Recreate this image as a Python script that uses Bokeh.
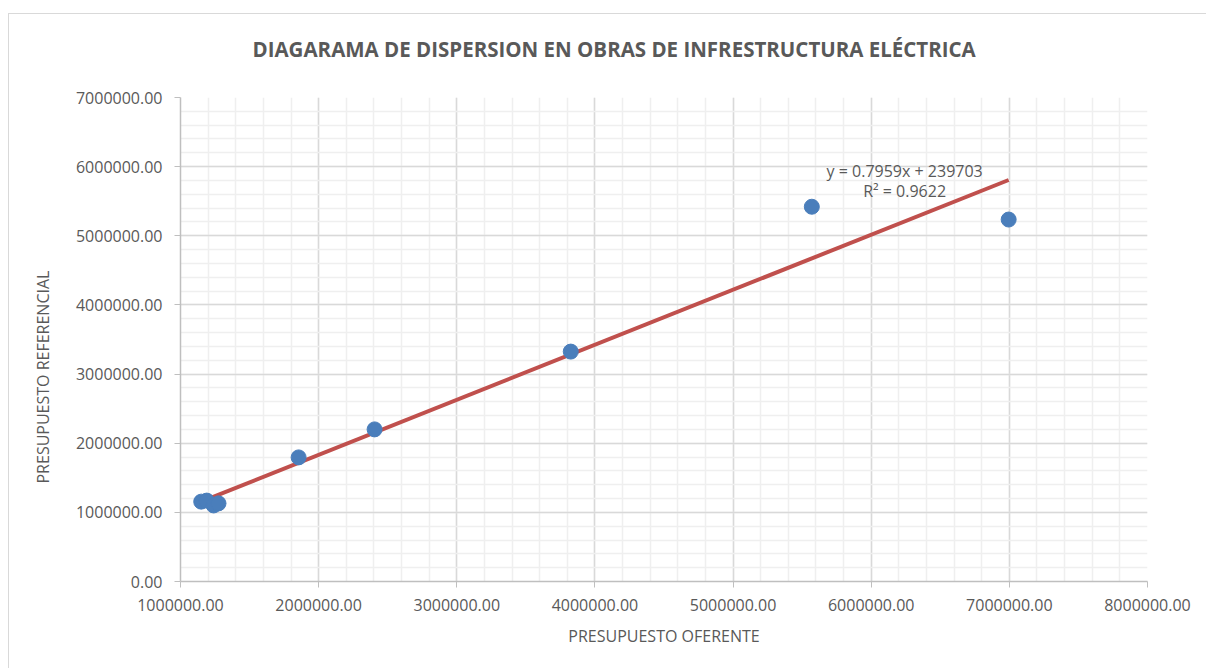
from bokeh.plotting import figure
from bokeh.models import FixedTicker, NumeralTickFormatter, Range1d, Label, Title
from bokeh.embed import file_html
from bokeh.resources import INLINE

# ---- data ----
presupuesto_oferente = [1150000, 1190000, 1240000, 1275000, 1855000, 2405000, 3825000, 5570000, 6995000]
presupuesto_referencial = [1155000, 1170000, 1100000, 1130000, 1795000, 2200000, 3325000, 5420000, 5235000]
slope = 0.7959
intercept = 239703
r2 = 0.9622
x_ticks = [1000000, 2000000, 3000000, 4000000, 5000000, 6000000, 7000000, 8000000]
y_ticks = [0, 1000000, 2000000, 3000000, 4000000, 5000000, 6000000, 7000000]
title_text = "DIAGARAMA DE DISPERSION EN OBRAS DE INFRESTRUCTURA ELÉCTRICA"
x_title = "PRESUPUESTO OFERENTE"
y_title = "PRESUPUESTO REFERENCIAL"

FONT = "Open Sans"
TXT = "#595959"

W, H = 1198, 655
p = figure(width=W, height=H, output_backend="svg", toolbar_location=None,
           x_range=Range1d(1000000, 8000000), y_range=Range1d(0, 7000000),
           min_border_left=171, min_border_right=60, min_border_top=83, min_border_bottom=88)
p.styles = {"margin-top": "13px", "margin-left": "8px",
            "border-top": "1px solid #d9d9d9", "border-left": "1px solid #d9d9d9"}
p.outline_line_color = None
p.background_fill_color = "white"
p.border_fill_color = "white"

x_minor = [1000000 + 200000 * i for i in range(36)]
y_minor = [200000 * i for i in range(36)]
p.xaxis.ticker = FixedTicker(ticks=x_ticks, minor_ticks=x_minor)
p.yaxis.ticker = FixedTicker(ticks=y_ticks, minor_ticks=y_minor)

for ax in (p.xaxis, p.yaxis):
    ax.formatter = NumeralTickFormatter(format="0.00")
    ax.axis_line_color = "#bfbfbf"
    ax.axis_line_width = 1.5
    ax.major_tick_line_color = "#bfbfbf"
    ax.major_tick_out = 6
    ax.major_tick_in = 0
    ax.minor_tick_line_color = None
    ax.major_label_text_font = FONT
    ax.major_label_text_font_size = "16px"
    ax.major_label_text_color = TXT
    ax.axis_label_text_font = FONT
    ax.axis_label_text_font_size = "16px"
    ax.axis_label_text_color = TXT
    ax.axis_label_text_font_style = "normal"

p.xaxis.major_label_standoff = 11
p.yaxis.major_label_standoff = 12
p.xaxis.axis_label = x_title
p.xaxis.axis_label_standoff = 11

for g in (p.xgrid, p.ygrid):
    g.grid_line_color = "#d9d9d9"
    g.grid_line_width = 1.5
    g.minor_grid_line_color = "#efefef"
    g.minor_grid_line_width = 1.5

# trend line
xmin, xmax = min(presupuesto_oferente), max(presupuesto_oferente)
p.line([xmin, xmax], [slope * xmin + intercept, slope * xmax + intercept],
       line_color="#c0504d", line_width=4)

p.scatter(presupuesto_oferente, presupuesto_referencial, size=15,
          fill_color="#4a7ebb", line_color="#4a7ebb")

# chart title (second empty line keeps it higher above the plot area)
p.add_layout(Title(text=title_text + "\n", align="left", offset=72, vertical_align="bottom",
                   standoff=13, text_font=FONT, text_font_size="20.5px",
                   text_font_style="bold", text_color=TXT), "above")
# y axis title (side title so it can be shifted along the axis)
p.add_layout(Title(text=y_title, align="left", offset=98, vertical_align="middle",
                   standoff=36, text_font=FONT, text_font_size="16px",
                   text_font_style="normal", text_color=TXT), "left")

# equation
p.add_layout(Label(x=6242000, y=5944000, text=f"y = {slope}x + {intercept}",
                   text_font=FONT, text_font_size="16px", text_color=TXT,
                   text_align="center", text_baseline="middle"))
p.add_layout(Label(x=6242000, y=5641000, text=f"R² = {r2}",
                   text_font=FONT, text_font_size="16px", text_color=TXT,
                   text_align="center", text_baseline="middle"))

open("out.html", "w").write(file_html(p, INLINE))
